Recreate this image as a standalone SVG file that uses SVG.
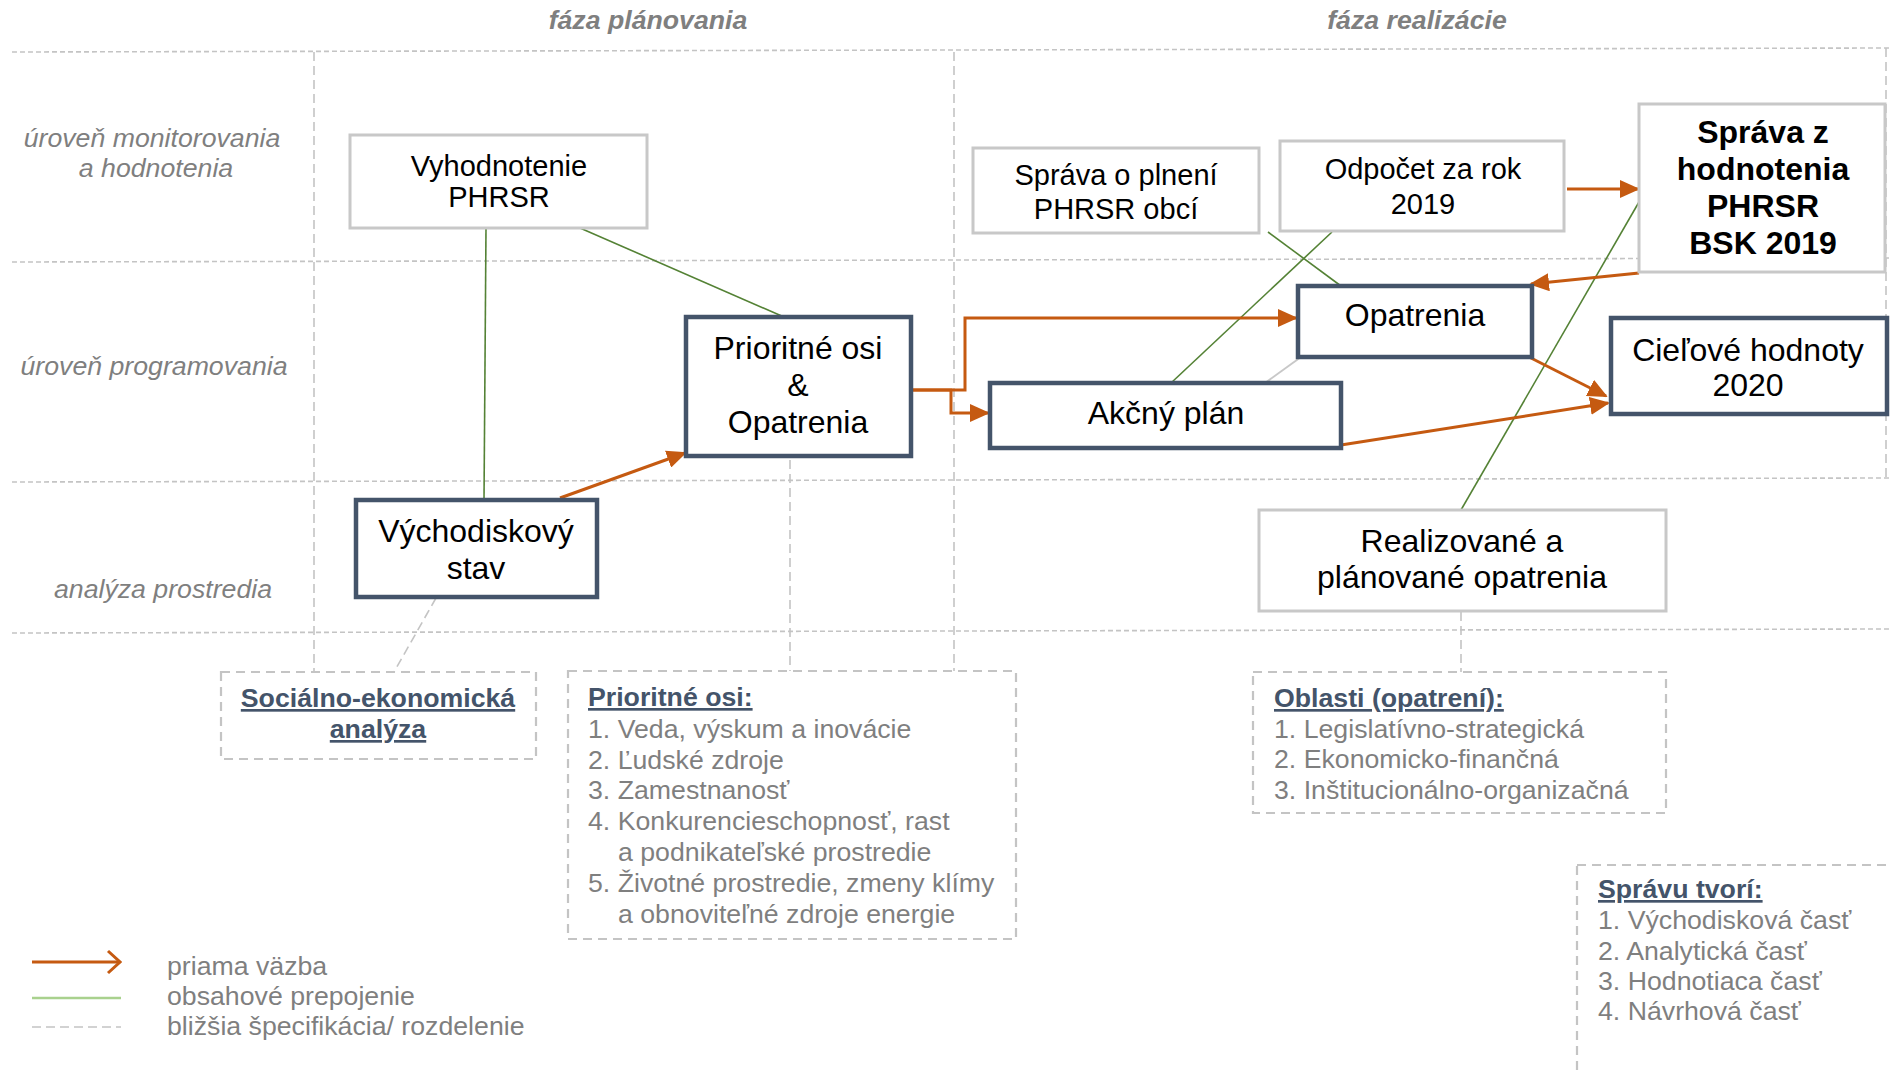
<svg xmlns="http://www.w3.org/2000/svg" width="1892" height="1070" viewBox="0 0 1892 1070">
<style>
text{font-family:"Liberation Sans",Arial,sans-serif}
.grid{stroke:#c4c4c4;stroke-width:1.6;stroke-dasharray:5 3;fill:none}
.vgrid{stroke:#c4c4c4;stroke-width:1.6;stroke-dasharray:9 5;fill:none}
.dbox{fill:#fff;stroke:#c4c4c4;stroke-width:2.2;stroke-dasharray:9 6}
.nodeg{fill:#fff;stroke:#c8c8c8;stroke-width:3}
.noded{fill:#fff;stroke:#44546a;stroke-width:4.5}
.lbl{fill:#000;text-anchor:middle}
.row{fill:#7f7f7f;font-size:26.7px;font-style:italic;text-anchor:middle}
.hdr{fill:#7f7f7f;font-size:26.7px;font-style:italic;font-weight:bold;text-anchor:middle}
.lst{fill:#7f7f7f;font-size:26.7px}
.lh{fill:#44546a;font-size:26.7px;font-weight:bold;text-decoration:underline}
.or{stroke:#c55a11;stroke-width:3;fill:none}
.gr{stroke:#548235;stroke-width:1.6;fill:none}
.sp{stroke:#c4c4c4;stroke-width:1.6;stroke-dasharray:9 5;fill:none}
</style>
<defs>
<marker id="ah" markerUnits="userSpaceOnUse" markerWidth="20" markerHeight="18" refX="18" refY="9" orient="auto">
<path d="M0,0 L20,9 L0,18 Z" fill="#c55a11"/>
</marker>
<marker id="oh" markerUnits="userSpaceOnUse" markerWidth="16" markerHeight="26" refX="14" refY="13" orient="auto">
<path d="M2,2 L14,13 L2,24" fill="none" stroke="#c55a11" stroke-width="3"/>
</marker>
</defs>
<rect width="1892" height="1070" fill="#fff"/>

<g id="grid">
<line class="grid" x1="12" y1="52" x2="1892" y2="48"/>
<line class="grid" x1="12" y1="262" x2="1892" y2="258"/>
<line class="grid" x1="12" y1="482" x2="1892" y2="478"/>
<line class="grid" x1="12" y1="633" x2="1892" y2="629"/>
<line class="vgrid" x1="314" y1="52" x2="314" y2="672"/>
<line class="vgrid" x1="954" y1="52" x2="954" y2="672"/>
<line class="vgrid" x1="1886" y1="48" x2="1886" y2="482"/>
</g>

<g id="headers">
<text class="hdr" x="648" y="29">fáza plánovania</text>
<text class="hdr" x="1417" y="29">fáza realizácie</text>
<text class="row" x="152" y="147">úroveň monitorovania</text>
<text class="row" x="156" y="177">a hodnotenia</text>
<text class="row" x="154" y="375">úroveň programovania</text>
<text class="row" x="163" y="598">analýza prostredia</text>
</g>

<g id="connectors">
<line class="sp" x1="436" y1="598" x2="394" y2="672"/>
<line class="sp" x1="790" y1="460" x2="790" y2="671"/>
<line class="sp" x1="1461" y1="612" x2="1461" y2="672"/>
<line class="gr" x1="486" y1="228" x2="484" y2="500"/>
<line class="gr" x1="580" y1="228" x2="784" y2="317"/>
<line class="gr" x1="1268" y1="232" x2="1341" y2="286"/>
<line class="gr" x1="1332" y1="232" x2="1171" y2="383"/>
<line class="gr" x1="1639" y1="202" x2="1461" y2="510"/>
<line x1="1301" y1="357" x2="1265" y2="383" stroke="#c8c8c8" stroke-width="2"/>
<line class="or" x1="560" y1="498" x2="685" y2="453" marker-end="url(#ah)"/>
<polyline class="or" points="911,390 965,390 965,318 1296,318" marker-end="url(#ah)"/>
<polyline class="or" points="911,390 951,390 951,413 988,413" marker-end="url(#ah)"/>
<line class="or" x1="1567" y1="189" x2="1638" y2="189" marker-end="url(#ah)"/>
<line class="or" x1="1639" y1="273" x2="1531" y2="284" marker-end="url(#ah)"/>
<line class="or" x1="1529" y1="357" x2="1606" y2="396" marker-end="url(#ah)"/>
<line class="or" x1="1341" y1="445" x2="1608" y2="403" marker-end="url(#ah)"/>
</g>

<g id="n-vyhodnotenie">
<rect class="nodeg" x="350" y="135" width="297" height="93"/>
<text class="lbl" x="499" y="176" font-size="29">Vyhodnotenie</text>
<text class="lbl" x="499" y="207" font-size="29">PHRSR</text>
</g>
<g id="n-vychodiskovy">
<rect class="noded" x="356" y="500" width="241" height="97"/>
<text class="lbl" x="476" y="542" font-size="32">Východiskový</text>
<text class="lbl" x="476" y="579" font-size="32">stav</text>
</g>
<g id="n-prioritne">
<rect class="noded" x="686" y="317" width="225" height="139"/>
<text class="lbl" x="798" y="359" font-size="32">Prioritné osi</text>
<text class="lbl" x="798" y="396" font-size="32">&amp;</text>
<text class="lbl" x="798" y="433" font-size="32">Opatrenia</text>
</g>
<g id="n-sprava-obci">
<rect class="nodeg" x="973" y="148" width="286" height="85"/>
<text class="lbl" x="1116" y="185" font-size="29">Správa o plnení</text>
<text class="lbl" x="1116" y="219" font-size="29">PHRSR obcí</text>
</g>
<g id="n-odpocet">
<rect class="nodeg" x="1280" y="141" width="284" height="90"/>
<text class="lbl" x="1423" y="179" font-size="29">Odpočet za rok</text>
<text class="lbl" x="1423" y="214" font-size="29">2019</text>
</g>
<g id="n-sprava-hodnotenia">
<rect class="nodeg" x="1639" y="104" width="246" height="168"/>
<text class="lbl" x="1763" y="143" font-size="32" font-weight="bold">Správa z</text>
<text class="lbl" x="1763" y="180" font-size="32" font-weight="bold">hodnotenia</text>
<text class="lbl" x="1763" y="217" font-size="32" font-weight="bold">PHRSR</text>
<text class="lbl" x="1763" y="254" font-size="32" font-weight="bold">BSK 2019</text>
</g>
<g id="n-opatrenia">
<rect class="noded" x="1298" y="286" width="234" height="71"/>
<text class="lbl" x="1415" y="326" font-size="32">Opatrenia</text>
</g>
<g id="n-akcny">
<rect class="noded" x="990" y="383" width="351" height="65"/>
<text class="lbl" x="1166" y="424" font-size="32">Akčný plán</text>
</g>
<g id="n-cielove">
<rect class="noded" x="1611" y="318" width="276" height="96"/>
<text class="lbl" x="1748" y="361" font-size="32">Cieľové hodnoty</text>
<text class="lbl" x="1748" y="396" font-size="32">2020</text>
</g>
<g id="n-realizovane">
<rect class="nodeg" x="1259" y="510" width="407" height="101"/>
<text class="lbl" x="1462" y="552" font-size="32">Realizované a</text>
<text class="lbl" x="1462" y="588" font-size="32">plánované opatrenia</text>
</g>

<g id="d-socio">
<rect class="dbox" x="221" y="672" width="315" height="87"/>
<text class="lh" x="378" y="707" text-anchor="middle">Sociálno-ekonomická</text>
<text class="lh" x="378" y="738" text-anchor="middle">analýza</text>
</g>
<g id="d-osi">
<rect class="dbox" x="568" y="671" width="448" height="268"/>
<text class="lh" x="588" y="706">Prioritné osi:</text>
<text class="lst" x="588" y="738">1. Veda, výskum a inovácie</text>
<text class="lst" x="588" y="769">2. Ľudské zdroje</text>
<text class="lst" x="588" y="799">3. Zamestnanosť</text>
<text class="lst" x="588" y="830">4. Konkurencieschopnosť, rast</text>
<text class="lst" x="618" y="861">a podnikateľské prostredie</text>
<text class="lst" x="588" y="892">5. Životné prostredie, zmeny klímy</text>
<text class="lst" x="618" y="923">a obnoviteľné zdroje energie</text>
</g>
<g id="d-oblasti">
<rect class="dbox" x="1253" y="672" width="413" height="141"/>
<text class="lh" x="1274" y="707">Oblasti (opatrení):</text>
<text class="lst" x="1274" y="738">1. Legislatívno-strategická</text>
<text class="lst" x="1274" y="768">2. Ekonomicko-finančná</text>
<text class="lst" x="1274" y="799">3. Inštitucionálno-organizačná</text>
</g>
<g id="d-spravu">
<rect class="dbox" x="1577" y="865" width="330" height="230"/>
<text class="lh" x="1598" y="898">Správu tvorí:</text>
<text class="lst" x="1598" y="929">1. Východisková časť</text>
<text class="lst" x="1598" y="960">2. Analytická časť</text>
<text class="lst" x="1598" y="990">3. Hodnotiaca časť</text>
<text class="lst" x="1598" y="1020">4. Návrhová časť</text>
</g>

<g id="legend">
<line class="or" x1="32" y1="962" x2="120" y2="962" marker-end="url(#oh)"/>
<line x1="32" y1="998" x2="121" y2="998" stroke="#a9d18e" stroke-width="2.5"/>
<line class="sp" x1="32" y1="1027" x2="121" y2="1027" stroke-dasharray="7 6"/>
<text class="lst" x="167" y="975">priama väzba</text>
<text class="lst" x="167" y="1005">obsahové prepojenie</text>
<text class="lst" x="167" y="1035">bližšia špecifikácia/ rozdelenie</text>
</g>
</svg>
